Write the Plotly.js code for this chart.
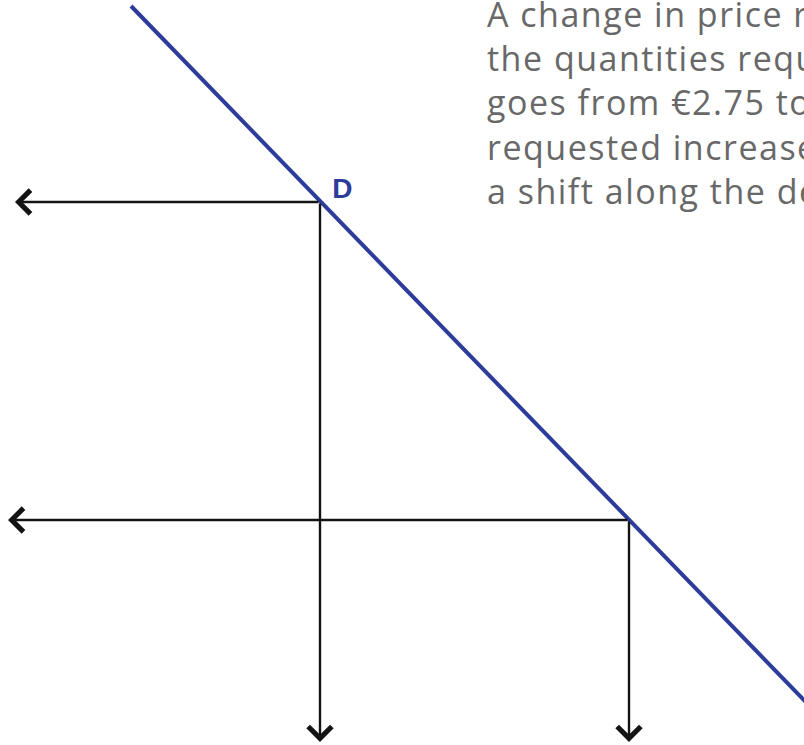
<!DOCTYPE html>
<html>
<head>
<meta charset="utf-8">
<script src="https://cdn.plot.ly/plotly-3.0.1.min.js"></script>
<style>
  html, body { margin: 0; padding: 0; background: #ffffff; }
  #chart { width: 804px; height: 745px; }
  /* slightly looser tracking for the note text */
  #chart .annotation-text { letter-spacing: 1.5px; }
</style>
</head>
<body>
<div id="chart"></div>
<script>
// Demand curve D (drawing units: x to the right, y downward)
const demandX = [131, 830];
const demandY = [6, 727];

// Two points on the demand curve: price level and quantity requested
const pointX = [320, 629];
const pointY = [202, 520];

// Where the guide arrows end: price axis on the left, quantity axis at the bottom
const priceArrowTipX = [15, 8];
const quantityArrowTipY = [742, 742];

const curveLabel = 'D';
const noteLines = [
  'A change in price r',
  'the quantities requ',
  'goes from €2.75 to',
  'requested increase',
  'a shift along the de'
];

const blue = '#2d3c9b';
const ink = '#141414';

const traces = [{
  type: 'scatter',
  mode: 'lines',
  x: demandX,
  y: demandY,
  line: { color: blue, width: 4 },
  hoverinfo: 'skip',
  showlegend: false
}];

const annotations = [];

// Horizontal arrows to the price axis and vertical arrows to the quantity axis
const arrowStyle = { arrowhead: 4, arrowsize: 1.9, arrowwidth: 2.4, arrowcolor: ink };
pointX.forEach((px, i) => {
  const py = pointY[i];
  annotations.push(Object.assign({
    x: priceArrowTipX[i], y: py, xref: 'x', yref: 'y',
    ax: px, ay: py, axref: 'x', ayref: 'y',
    text: '', showarrow: true
  }, arrowStyle));
  annotations.push(Object.assign({
    x: px, y: quantityArrowTipY[i], xref: 'x', yref: 'y',
    ax: px, ay: py, axref: 'x', ayref: 'y',
    text: '', showarrow: true
  }, arrowStyle));
});

// Curve label
annotations.push({
  x: 331, y: 188, xref: 'x', yref: 'y',
  xanchor: 'left', yanchor: 'middle',
  text: curveLabel, showarrow: false,
  font: { family: 'Liberation Sans, Arial, sans-serif', size: 28, color: blue, weight: 'bold' }
});

// Explanatory note
annotations.push({
  x: 485, y: 0, xref: 'x', yref: 'y', yshift: 11,
  xanchor: 'left', yanchor: 'top', align: 'left',
  text: noteLines.join('<br>'), showarrow: false,
  font: { family: 'Open Sans, sans-serif', size: 34, color: '#686868' }
});

const layout = {
  width: 804,
  height: 745,
  margin: { l: 0, r: 0, t: 0, b: 0, pad: 0 },
  paper_bgcolor: '#ffffff',
  plot_bgcolor: '#ffffff',
  xaxis: { range: [0, 804], visible: false, fixedrange: true },
  yaxis: { range: [745, 0], visible: false, fixedrange: true },
  annotations: annotations,
  showlegend: false
};

Plotly.newPlot('chart', traces, layout, { staticPlot: true, displayModeBar: false });
</script>
</body>
</html>
